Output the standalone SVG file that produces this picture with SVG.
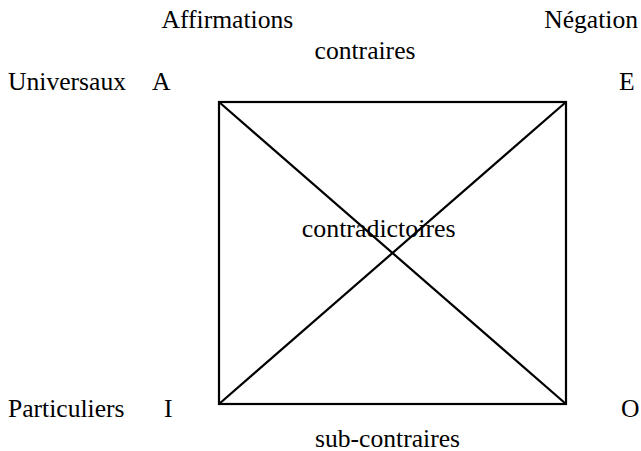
<svg xmlns="http://www.w3.org/2000/svg" width="641" height="451" viewBox="0 0 641 451">
<style>
text{font-family:"Liberation Serif","Times New Roman",serif;font-size:25.6px;fill:#000}
.ln{stroke:#000;stroke-width:2.2;fill:none}
</style>
<rect width="641" height="451" fill="#fff"/>
<g id="labels">
<text x="161.5" y="28">Affirmations</text>
<text x="638" y="28" text-anchor="end">Négation</text>
<text x="8" y="89.5">Universaux</text>
<text x="8" y="417">Particuliers</text>
</g>
<g id="node-A"><text x="152" y="89.5">A</text></g>
<g id="node-E"><text x="619" y="89.5">E</text></g>
<g id="node-I"><text x="164" y="417">I</text></g>
<g id="node-O"><text x="621" y="417">O</text></g>
<g id="connectors">
<rect class="ln" x="219" y="102" width="347" height="302"/>
<line class="ln" x1="219" y1="102" x2="566" y2="404"/>
<line class="ln" x1="219" y1="404" x2="566" y2="102"/>
<text x="365" y="58.5" text-anchor="middle">contraires</text>
<text x="378.7" y="237" text-anchor="middle" style="font-size:25.9px">contradictoires</text>
<text x="387.5" y="447" text-anchor="middle">sub-contraires</text>
</g>
</svg>
